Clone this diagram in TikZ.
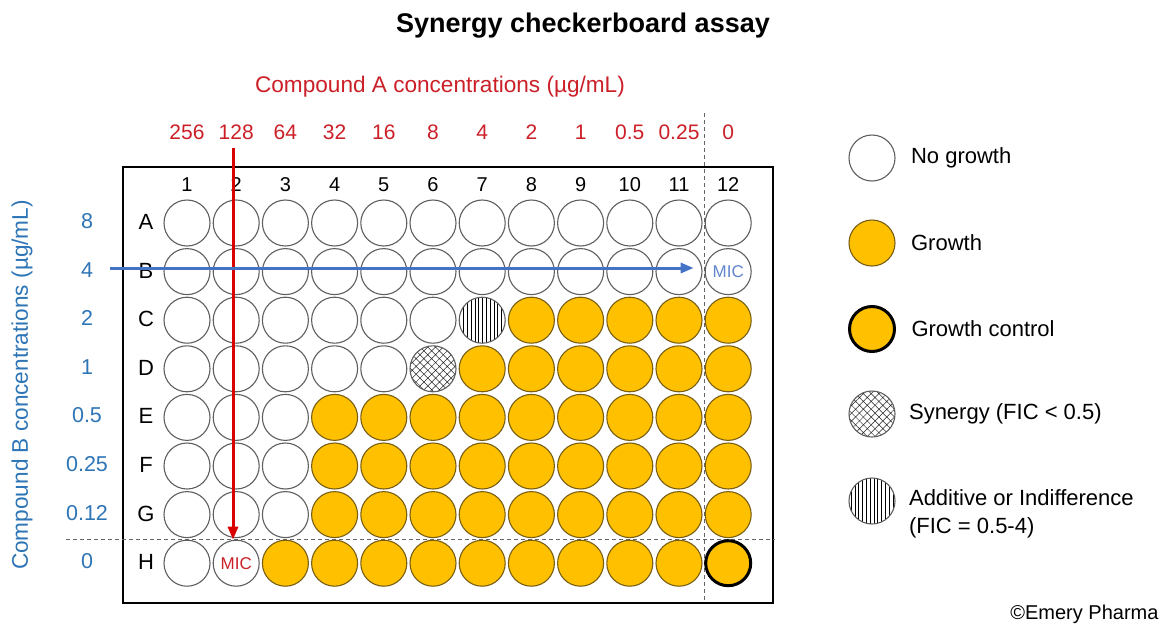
\documentclass[tikz,border=0pt]{standalone}
\usepackage{fontspec}
\setmainfont{Liberation Sans}
\usetikzlibrary{arrows.meta, positioning, patterns.meta, calc}
\definecolor{growthfill}{RGB}{255,192,0}
\definecolor{growthdraw}{RGB}{120,95,20}
\definecolor{wellgray}{RGB}{95,95,95}
\definecolor{cmpAred}{RGB}{204,32,40}
\definecolor{cmpBblue}{RGB}{46,117,182}
\definecolor{arrowblue}{RGB}{68,114,196}
\definecolor{dashgray}{RGB}{100,100,100}
\tikzset{
  every node/.style={font=\fontsize{20}{24}\selectfont},
  well/.style     = {circle, draw=wellgray, line width=1.1pt, minimum size=46pt, inner sep=0pt},
  wellclear/.style  = {well, fill=white},
  wellgrowth/.style = {well, fill=growthfill, draw=growthdraw},
  wellctrl/.style   = {well, fill=growthfill, draw=black, line width=3pt, minimum size=45pt},
  wellsyn/.style    = {well, fill=white, pattern={Hatch[angle=45, distance=5.5pt, line width=0.5pt]},
                       pattern color=black!85},
  welladd/.style    = {well, fill=white, pattern={Lines[angle=90, distance=3.8pt, line width=0.8pt]},
                       pattern color=black},
  cell C7/.style  = {welladd},
  cell D6/.style  = {wellsyn},
  cell H12/.style = {wellctrl},
  plate/.style   = {rectangle, draw=black, line width=1.6pt, fill=white,
                    minimum width=650pt, minimum height=436pt},
  guide/.style   = {draw=dashgray, line width=1pt, dash pattern=on 4pt off 3pt},
  redarrow/.style  = {-{Triangle[length=13pt,width=10pt]}, draw=red!85!black, line width=3pt},
  bluearrow/.style = {-{Triangle[length=13pt,width=10pt]}, draw=arrowblue, line width=3pt},
  mictext/.style = {font=\fontsize{17}{20}\selectfont, inner sep=0pt},
  legtext/.style = {font=\fontsize{22}{28}\selectfont, align=left},
  axis/.style    = {font=\fontsize{22.6}{26}\selectfont},
  title/.style   = {font=\bfseries\fontsize{27}{32}\selectfont},
}

\begin{document}
\begin{tikzpicture}[x=1pt, y=-1pt]
  \fill[white] (0,0) rectangle (1162,627);
  \useasboundingbox (0,0) rectangle (1162,627);

  \node[title] (head) at (583,26) {Synergy checkerboard assay};
  \node[axis, text=cmpAred] (axisA) at (440,87) {Compound A concentrations (µg/mL)};
  \node[axis, text=cmpBblue, rotate=90] (axisB) at (22,385) {Compound B concentrations (µg/mL)};

  % plate outline
  \node[plate] (plate) at (448,385) {};

  % guide lines
  \coordinate (vtop) at (704,113);
  \coordinate (vbot) at (704,600);
  \coordinate (hleft) at (66,539);
  \coordinate (hright) at (775,539);
  \draw[guide] (vtop) -- (vbot);
  \draw[guide] (hleft) -- (hright);

  % wells
  \foreach \row/\nw [count=\i] in {A/12,B/12,C/6,D/5,E/3,F/3,G/3,H/2}{
    \node (row-\row) at (146,{222+(\i-1)*48.6}) {\fontsize{22}{24}\selectfont\row};
    \foreach \col in {1,...,12}{
      \ifnum\col>\nw \def\wstyle{wellgrowth}\else \def\wstyle{wellclear}\fi
      \node[\wstyle, cell \row\col/.try] (w-\row-\col) at ({187+(\col-1)*49.2},{223+(\i-1)*48.6}) {};
    }
  }
  \foreach \col in {1,...,12}
    \node (col-\col) at ({187+(\col-1)*49.2},185) {\col};

  % concentrations
  \foreach \c [count=\j] in {256,128,64,32,16,8,4,2,1,0.5,0.25,0}
    \node[text=cmpAred, font=\fontsize{21}{24}\selectfont] (concA-\j) at ({187+(\j-1)*49.2},132) {\c};
  \foreach \c [count=\j] in {8,4,2,1,0.5,0.25,0.12,0}
    \node[text=cmpBblue, font=\fontsize{21.5}{24}\selectfont] (concB-\j) at (87,{221+(\j-1)*48.6}) {\c};

  \node[mictext, text=cmpAred] (micA) at (w-H-2) {MIC};
  \node[mictext, text=arrowblue!85] (micB) at (w-B-12) {MIC};

  % MIC arrows
  \coordinate (redstart) at (233,148);
  \coordinate (bluestart) at (110,268);
  \draw[redarrow] (redstart) -- (redstart |- w-H-2.north);
  \draw[bluearrow, shorten >=11pt] (bluestart) -- (bluestart -| w-B-12.west);

  % legend
  \node[wellclear]  (leg-clear)  at (872,158) {};
  \node[wellgrowth] (leg-growth) at (872,243) {};
  \node[wellctrl]   (leg-ctrl)   at (872,329) {};
  \node[wellsyn]    (leg-syn)    at (872,414) {};
  \node[welladd]    (leg-add)    at (872,501) {};
  \node[legtext, right=12pt of leg-clear]  (txt-clear)  {No growth};
  \node[legtext, right=12pt of leg-growth] (txt-growth) {Growth};
  \node[legtext, right=12pt of leg-ctrl]   (txt-ctrl)   {Growth control};
  \node[legtext, right=10pt of leg-syn]    (txt-syn)    {Synergy (FIC < 0.5)};
  \node[legtext, right=10pt of leg-add, yshift=-13pt] (txt-add) {Additive or Indifference\\(FIC = 0.5-4)};

  \node[anchor=east] (copy) at (1162,614) {©Emery Pharma};
\end{tikzpicture}
\end{document}
